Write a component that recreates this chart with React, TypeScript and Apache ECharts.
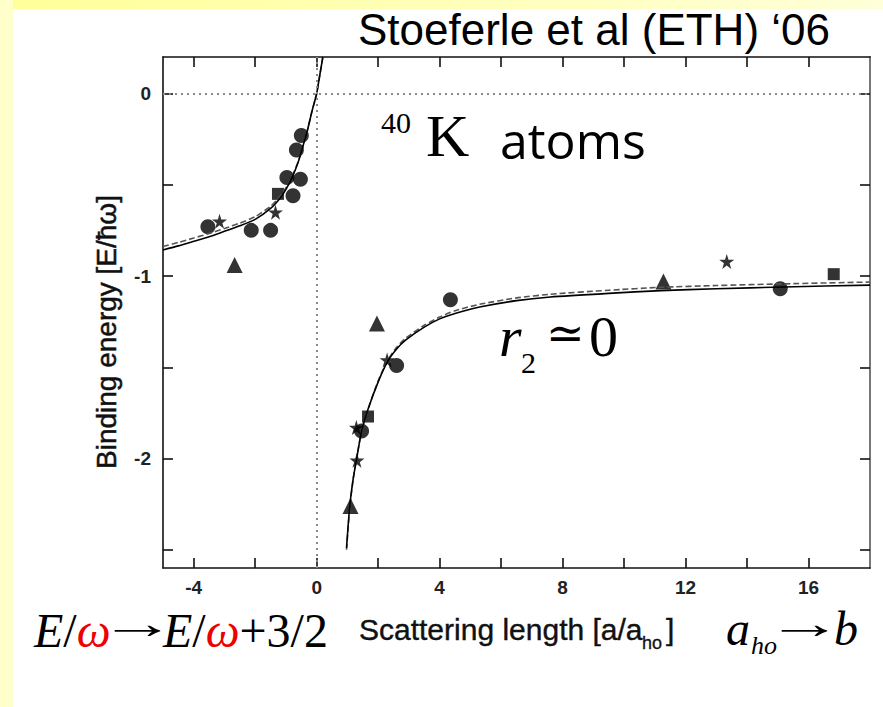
import React, { useEffect, useRef } from "react";
import * as echarts from "echarts";

// ---------- data ----------
const xTickValues = [-4, -2, 0, 2, 4, 6, 8, 10, 12, 14, 16];
const xLabelValues = [-4, 0, 4, 8, 12, 16];
const yTickValues = [0, -0.5, -1, -1.5, -2, -2.5];
const yLabelValues = [0, -1, -2];

// theory curves (solid / dashed): branch for a<0 and molecular branch for a>0
const solidLeft = [
  [-5.0, -0.857], [-4.5, -0.835], [-4.0, -0.81], [-3.5, -0.785], [-3.0, -0.755],
  [-2.5, -0.725], [-2.0, -0.69], [-1.5, -0.63], [-1.2, -0.575], [-1.0, -0.525],
  [-0.8, -0.46], [-0.6, -0.375], [-0.45, -0.29], [-0.3, -0.2], [-0.15, -0.095],
  [0, 0], [0.1, 0.1], [0.2, 0.2],
];
const dashedLeft = [
  [-5.0, -0.838], [-4.5, -0.816], [-4.0, -0.792], [-3.5, -0.767], [-3.0, -0.74],
  [-2.5, -0.71], [-2.0, -0.675], [-1.5, -0.618], [-1.2, -0.566], [-1.0, -0.518],
  [-0.8, -0.455], [-0.6, -0.372], [-0.45, -0.29], [-0.3, -0.2], [-0.15, -0.095],
  [0, 0], [0.1, 0.1], [0.2, 0.2],
];
const solidRight = [
  [0.97, -2.49], [1.07, -2.27], [1.18, -2.12], [1.29, -2.01], [1.46, -1.85],
  [1.67, -1.73], [2.0, -1.58], [2.3, -1.47], [2.6, -1.4], [2.9, -1.35],
  [3.5, -1.28], [4.0, -1.235], [4.5, -1.205], [5.3, -1.17], [6.5, -1.135],
  [7.6, -1.115], [9.5, -1.095], [11.2, -1.08], [13.0, -1.07], [15.2, -1.06],
  [18.0, -1.05],
];
const dashedRight = [
  [0.97, -2.5], [1.07, -2.28], [1.18, -2.12], [1.29, -2.01], [1.46, -1.85],
  [1.67, -1.73], [2.0, -1.575], [2.3, -1.465], [2.6, -1.39], [2.9, -1.34],
  [3.5, -1.27], [4.0, -1.225], [4.5, -1.19], [5.3, -1.155], [6.5, -1.12],
  [7.6, -1.1], [9.5, -1.078], [11.2, -1.062], [13.0, -1.052], [15.2, -1.043],
  [18.0, -1.033],
];

// measured points
const circlePoints = [
  [-0.5, -0.23], [-0.66, -0.31], [-0.97, -0.46], [-0.53, -0.47], [-0.77, -0.56],
  [-3.54, -0.73], [-2.13, -0.75], [-1.5, -0.75], [4.35, -1.13], [2.6, -1.49],
  [1.46, -1.85], [15.08, -1.07],
];
const squarePoints = [[-1.26, -0.55], [1.67, -1.77], [16.82, -0.99]];
const starPoints = [
  [-3.16, -0.7], [-1.34, -0.65], [2.29, -1.46], [1.29, -1.83], [1.31, -2.01], [13.34, -0.92],
];
const trianglePoints = [[-2.67, -0.94], [1.96, -1.26], [1.1, -2.26], [11.28, -1.03]];

const STAR =
  "path://M50,0 L61,35 L98,35 L68,57 L79,91 L50,70 L21,91 L32,57 L2,35 L39,35 Z";

const SANS = '"Liberation Sans", Arial, sans-serif';
const SERIF = '"Liberation Serif", "Times New Roman", "DejaVu Serif", serif';

export default function App() {
  const ref = useRef<HTMLDivElement>(null);

  useEffect(() => {
    document.body.style.margin = "0";
    const chart = echarts.init(ref.current!, undefined, { renderer: "svg" });

    const axisCommon = {
      type: "value" as const,
      splitLine: { show: false },
      axisLine: { show: true, onZero: false, lineStyle: { color: "#111", width: 1.6 } },
      axisTick: { show: true, inside: true, length: 10, lineStyle: { color: "#111", width: 1.6 } },
    };
    const tickLabel = {
      fontFamily: SANS,
      fontWeight: "bold" as const,
      fontSize: 19,
      color: "#222",
    };
    const serifText = (x: number, y: number, text: string, font: string, extra: any = {}) => ({
      type: "text", x, y, ...extra,
      style: { text, font, fill: "#000", align: "left", verticalAlign: "middle" },
    });

    chart.setOption({
      animation: false,
      backgroundColor: "#ffffff",
      grid: { left: 163, right: 13, top: 57, bottom: 139, containLabel: false },
      xAxis: [
        {
          ...axisCommon,
          min: -5,
          max: 18,
          position: "bottom",
          axisTick: { ...axisCommon.axisTick, customValues: xTickValues },
          axisLabel: { ...tickLabel, customValues: xLabelValues, margin: 10 },
        },
        {
          ...axisCommon,
          min: -5,
          max: 18,
          position: "top",
          axisTick: { ...axisCommon.axisTick, customValues: xTickValues },
          axisLabel: { show: false },
        },
      ],
      yAxis: [
        {
          ...axisCommon,
          min: -2.6,
          max: 0.2,
          position: "left",
          axisTick: { ...axisCommon.axisTick, customValues: yTickValues },
          axisLabel: { ...tickLabel, customValues: yLabelValues, margin: 12 },
        },
        {
          ...axisCommon,
          min: -2.6,
          max: 0.2,
          position: "right",
          axisLine: { show: true, onZero: false, lineStyle: { color: "#777", width: 2 } },
          axisTick: { ...axisCommon.axisTick, customValues: yTickValues },
          axisLabel: { show: false },
        },
      ],
      series: [
        {
          type: "line",
          data: [],
          silent: true,
          markLine: {
            silent: true,
            symbol: ["none", "none"],
            label: { show: false },
            lineStyle: { type: [2, 4], color: "#888", width: 2 },
            data: [{ yAxis: 0 }, { xAxis: 0 }],
          },
        },
        {
          type: "line", data: dashedLeft, smooth: 0.2, showSymbol: false,
          lineStyle: { color: "#555", width: 1.6, type: [6, 3] },
        },
        {
          type: "line", data: dashedRight, smooth: 0.2, showSymbol: false,
          lineStyle: { color: "#555", width: 1.6, type: [6, 3] },
        },
        {
          type: "line", data: solidLeft, smooth: 0.2, showSymbol: false,
          lineStyle: { color: "#000", width: 1.6 },
        },
        {
          type: "line", data: solidRight, smooth: 0.2, showSymbol: false,
          lineStyle: { color: "#000", width: 1.6 },
        },
        { type: "scatter", data: circlePoints, symbol: "circle", symbolSize: 15, itemStyle: { color: "#000" } },
        { type: "scatter", data: squarePoints, symbol: "rect", symbolSize: 12, itemStyle: { color: "#000" } },
        { type: "scatter", data: starPoints, symbol: STAR, symbolSize: 15, itemStyle: { color: "#000" } },
        { type: "scatter", data: trianglePoints, symbol: "triangle", symbolSize: 16, itemStyle: { color: "#000" } },
      ],
      graphic: [
        // slide decoration
        {
          type: "rect", z: -10, shape: { x: 0, y: 0, width: 883, height: 9 },
          style: {
            fill: new echarts.graphic.LinearGradient(0, 0, 1, 0, [
              { offset: 0, color: "#ffff99" },
              { offset: 1, color: "#ffffd8" },
            ]),
          },
        },
        { type: "rect", z: -10, shape: { x: 0, y: 0, width: 13, height: 707 }, style: { fill: "#ffffcc" } },
        // title
        {
          type: "text", x: 358, y: 29,
          style: { text: "Stoeferle et al (ETH) \u201806", font: `44px ${SANS}`, fill: "#000", align: "left", verticalAlign: "middle" },
        },
        // 40K atoms
        serifText(381, 122, "40", `30px ${SERIF}`),
        serifText(426, 136, "K", `60px ${SERIF}`),
        {
          type: "text", x: 500, y: 140,
          style: { text: "atoms", font: `50px "Comic Sans MS", "Open Sans", sans-serif`, fill: "#000", align: "left", verticalAlign: "middle" },
        },
        // r2 ≃ 0
        serifText(499, 336, "r", `italic 58px ${SERIF}`),
        serifText(521, 362, "2", `30px ${SERIF}`),
        serifText(546, 333, "\u2243", `46px ${SERIF}`),
        serifText(589, 336, "0", `58px ${SERIF}`),
        // y axis title
        {
          type: "text", x: 106, y: 332, rotation: Math.PI / 2,
          style: {
            text: "Binding energy [E/\u0127\u03c9]", font: `28px ${SANS}`, fill: "#111",
            stroke: "#111", lineWidth: 0.5, align: "center", verticalAlign: "middle",
          },
        },
        // bottom: E/ω → E/ω + 3/2
        {
          type: "text", x: 34, y: 630,
          style: {
            text: "{i|E}{n|/}{r|\u03c9}",
            fill: "#000", align: "left", verticalAlign: "middle",
            rich: {
              i: { fontFamily: SERIF, fontStyle: "italic", fontSize: 48, fill: "#000" },
              r: { fontFamily: SERIF, fontStyle: "italic", fontSize: 48, fill: "#ee0000" },
              n: { fontFamily: SERIF, fontSize: 48, fill: "#000" },
            },
          },
        },
        serifText(99, 623, "\u2192", `44px ${SERIF}`, { scaleX: 1.75 }),
        {
          type: "text", x: 163, y: 630,
          style: {
            text: "{i|E}{n|/}{r|\u03c9}{n|+3/2}",
            fill: "#000", align: "left", verticalAlign: "middle",
            rich: {
              i: { fontFamily: SERIF, fontStyle: "italic", fontSize: 48, fill: "#000" },
              r: { fontFamily: SERIF, fontStyle: "italic", fontSize: 48, fill: "#ee0000" },
              n: { fontFamily: SERIF, fontSize: 48, fill: "#000" },
            },
          },
        },
        // x axis title
        {
          type: "text", x: 359, y: 629,
          style: {
            text: "Scattering length [a/a", font: `30px ${SANS}`, fill: "#111",
            stroke: "#111", lineWidth: 0.4, align: "left", verticalAlign: "middle",
          },
        },
        {
          type: "text", x: 642, y: 643,
          style: { text: "ho", font: `18px ${SANS}`, fill: "#111", stroke: "#111", lineWidth: 0.3, align: "left", verticalAlign: "middle" },
        },
        {
          type: "text", x: 666, y: 629,
          style: { text: "]", font: `30px ${SANS}`, fill: "#111", stroke: "#111", lineWidth: 0.4, align: "left", verticalAlign: "middle" },
        },
        // a_ho → b
        serifText(726, 628, "a", `italic 48px ${SERIF}`),
        serifText(751, 645, "ho", `italic 26px ${SERIF}`),
        serifText(766, 623, "\u2192", `44px ${SERIF}`, { scaleX: 1.75 }),
        serifText(834, 628, "b", `italic 48px ${SERIF}`),
      ],
    });

    return () => chart.dispose();
  }, []);

  return (
    <div
      ref={ref}
      style={{ position: "absolute", left: 0, top: 0, width: 883, height: 707 }}
    />
  );
}
